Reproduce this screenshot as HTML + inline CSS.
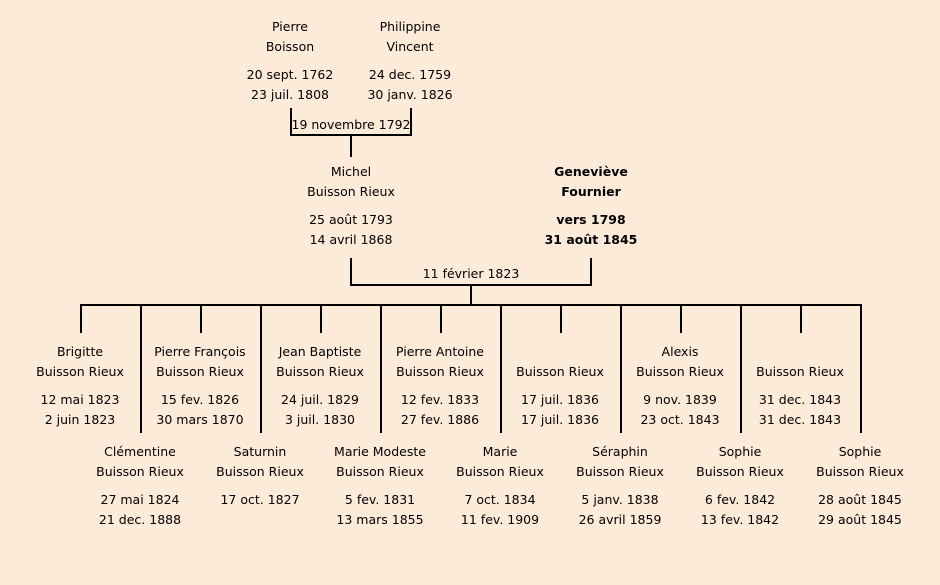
<!DOCTYPE html>
<html><head><meta charset="utf-8"><style>
body{margin:0;width:940px;height:585px;background:#fdebd9;position:relative;overflow:hidden;font-family:"DejaVu Sans","Liberation Sans",sans-serif;font-size:12.5px;color:#000}
.t{position:absolute;width:160px;text-align:center;line-height:20px;white-space:nowrap}
.l{position:absolute;background:#000}
.b{font-weight:bold}
</style></head><body>
<div class="l" style="left:290px;top:108px;width:2px;height:28px"></div>
<div class="l" style="left:410px;top:108px;width:2px;height:28px"></div>
<div class="l" style="left:290px;top:134px;width:122px;height:2px"></div>
<div class="l" style="left:350px;top:136px;width:2px;height:21px"></div>
<div class="l" style="left:350px;top:258px;width:2px;height:28px"></div>
<div class="l" style="left:590px;top:258px;width:2px;height:28px"></div>
<div class="l" style="left:350px;top:284px;width:242px;height:2px"></div>
<div class="l" style="left:470px;top:286px;width:2px;height:20px"></div>
<div class="l" style="left:80px;top:304px;width:782px;height:2px"></div>
<div class="l" style="left:80px;top:306px;width:2px;height:27px"></div>
<div class="l" style="left:200px;top:306px;width:2px;height:27px"></div>
<div class="l" style="left:320px;top:306px;width:2px;height:27px"></div>
<div class="l" style="left:440px;top:306px;width:2px;height:27px"></div>
<div class="l" style="left:560px;top:306px;width:2px;height:27px"></div>
<div class="l" style="left:680px;top:306px;width:2px;height:27px"></div>
<div class="l" style="left:800px;top:306px;width:2px;height:27px"></div>
<div class="l" style="left:140px;top:306px;width:2px;height:127px"></div>
<div class="l" style="left:260px;top:306px;width:2px;height:127px"></div>
<div class="l" style="left:380px;top:306px;width:2px;height:127px"></div>
<div class="l" style="left:500px;top:306px;width:2px;height:127px"></div>
<div class="l" style="left:620px;top:306px;width:2px;height:127px"></div>
<div class="l" style="left:740px;top:306px;width:2px;height:127px"></div>
<div class="l" style="left:860px;top:306px;width:2px;height:127px"></div>

<div class="t" style="left:210px;top:17px">Pierre<br>Boisson</div>
<div class="t" style="left:210px;top:65px">20 sept. 1762<br>23 juil. 1808</div>
<div class="t" style="left:330px;top:17px">Philippine<br>Vincent</div>
<div class="t" style="left:330px;top:65px">24 dec. 1759<br>30 janv. 1826</div>
<div class="t" style="left:271px;top:115px">19 novembre 1792</div>

<div class="t" style="left:271px;top:162px">Michel<br>Buisson Rieux</div>
<div class="t" style="left:271px;top:210px">25 août 1793<br>14 avril 1868</div>
<div class="t b" style="left:511px;top:162px">Geneviève<br>Fournier</div>
<div class="t b" style="left:511px;top:210px">vers 1798<br>31 août 1845</div>
<div class="t" style="left:391px;top:264px">11 février 1823</div>

<div class="t" style="left:0px;top:342px">Brigitte<br>Buisson Rieux</div>
<div class="t" style="left:0px;top:390px">12 mai 1823<br>2 juin 1823</div>
<div class="t" style="left:120px;top:342px">Pierre François<br>Buisson Rieux</div>
<div class="t" style="left:120px;top:390px">15 fev. 1826<br>30 mars 1870</div>
<div class="t" style="left:240px;top:342px">Jean Baptiste<br>Buisson Rieux</div>
<div class="t" style="left:240px;top:390px">24 juil. 1829<br>3 juil. 1830</div>
<div class="t" style="left:360px;top:342px">Pierre Antoine<br>Buisson Rieux</div>
<div class="t" style="left:360px;top:390px">12 fev. 1833<br>27 fev. 1886</div>
<div class="t" style="left:480px;top:362px">Buisson Rieux</div>
<div class="t" style="left:480px;top:390px">17 juil. 1836<br>17 juil. 1836</div>
<div class="t" style="left:600px;top:342px">Alexis<br>Buisson Rieux</div>
<div class="t" style="left:600px;top:390px">9 nov. 1839<br>23 oct. 1843</div>
<div class="t" style="left:720px;top:362px">Buisson Rieux</div>
<div class="t" style="left:720px;top:390px">31 dec. 1843<br>31 dec. 1843</div>

<div class="t" style="left:60px;top:442px">Clémentine<br>Buisson Rieux</div>
<div class="t" style="left:60px;top:490px">27 mai 1824<br>21 dec. 1888</div>
<div class="t" style="left:180px;top:442px">Saturnin<br>Buisson Rieux</div>
<div class="t" style="left:180px;top:490px">17 oct. 1827</div>
<div class="t" style="left:300px;top:442px">Marie Modeste<br>Buisson Rieux</div>
<div class="t" style="left:300px;top:490px">5 fev. 1831<br>13 mars 1855</div>
<div class="t" style="left:420px;top:442px">Marie<br>Buisson Rieux</div>
<div class="t" style="left:420px;top:490px">7 oct. 1834<br>11 fev. 1909</div>
<div class="t" style="left:540px;top:442px">Séraphin<br>Buisson Rieux</div>
<div class="t" style="left:540px;top:490px">5 janv. 1838<br>26 avril 1859</div>
<div class="t" style="left:660px;top:442px">Sophie<br>Buisson Rieux</div>
<div class="t" style="left:660px;top:490px">6 fev. 1842<br>13 fev. 1842</div>
<div class="t" style="left:780px;top:442px">Sophie<br>Buisson Rieux</div>
<div class="t" style="left:780px;top:490px">28 août 1845<br>29 août 1845</div>
</body></html>
